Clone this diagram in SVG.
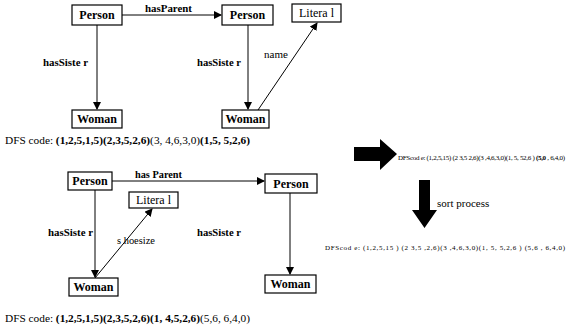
<svg xmlns="http://www.w3.org/2000/svg" width="569" height="333" viewBox="0 0 569 333" font-family="'Liberation Serif', 'Times New Roman', Times, serif">
<style>
text{font-family:'Liberation Serif','Times New Roman',Times,serif;fill:#000}
.box{fill:#fff;stroke:#000;stroke-width:1.2}
.nl{font-size:12px;font-weight:bold}
.lit{font-size:12px}
.el{font-size:11px;font-weight:bold}
.en{font-size:11px}
.code{font-size:11px}
.small{font-size:7px}
.b{font-weight:bold}
.edge{stroke:#000;stroke-width:1;fill:none;marker-end:url(#ah)}
</style>
<defs>
<marker id="ah" markerWidth="8" markerHeight="8" refX="7" refY="4" orient="auto" markerUnits="userSpaceOnUse">
<path d="M0,0 L8,4 L0,8 Z" fill="#000"/>
</marker>
</defs>
<g id="connectors">
<line class="edge" x1="122" y1="15" x2="221" y2="15"/>
<line class="edge" x1="97" y1="25" x2="97" y2="109"/>
<line class="edge" x1="248" y1="25" x2="248" y2="109"/>
<line class="edge" x1="258" y1="110" x2="317" y2="23"/>
<line class="edge" x1="112" y1="181" x2="264" y2="181"/>
<line class="edge" x1="95" y1="190" x2="95" y2="277"/>
<line class="edge" x1="95" y1="278" x2="152" y2="209"/>
<line class="edge" x1="290" y1="193" x2="290" y2="274"/>
<text class="el" x="145" y="12" textLength="47" lengthAdjust="spacingAndGlyphs">hasParent</text>
<text class="el" x="43" y="66" textLength="45" lengthAdjust="spacingAndGlyphs">hasSiste r</text>
<text class="el" x="197" y="66" textLength="44" lengthAdjust="spacingAndGlyphs">hasSiste r</text>
<text class="en" x="264" y="58">name</text>
<text class="el" x="135" y="178" textLength="47" lengthAdjust="spacingAndGlyphs">has Parent</text>
<text class="el" x="48" y="236" textLength="45" lengthAdjust="spacingAndGlyphs">hasSiste r</text>
<text class="en" x="117" y="244" textLength="38" lengthAdjust="spacingAndGlyphs">s hoesize</text>
<text class="el" x="197" y="236" textLength="44" lengthAdjust="spacingAndGlyphs">hasSiste r</text>
</g>
<g id="person1"><rect class="box" x="72" y="5" width="50" height="20"/><text class="nl" x="97" y="19" text-anchor="middle">Person</text></g>
<g id="person2"><rect class="box" x="222" y="5" width="51" height="20"/><text class="nl" x="247.5" y="19" text-anchor="middle">Person</text></g>
<g id="literal1"><rect class="box" x="292" y="4" width="49" height="18"/><text class="lit" x="316.5" y="17" text-anchor="middle">Litera l</text></g>
<g id="woman1"><rect class="box" x="72" y="110" width="50" height="18"/><text class="nl" x="97" y="123" text-anchor="middle">Woman</text></g>
<g id="woman2"><rect class="box" x="222" y="110" width="47" height="18"/><text class="nl" x="245.5" y="123" text-anchor="middle">Woman</text></g>
<g id="person3"><rect class="box" x="68" y="172" width="44" height="18"/><text class="nl" x="90" y="185" text-anchor="middle">Person</text></g>
<g id="person4"><rect class="box" x="265" y="174" width="52" height="19"/><text class="nl" x="291" y="188" text-anchor="middle">Person</text></g>
<g id="literal2"><rect class="box" x="129" y="192" width="49" height="16"/><text class="lit" x="153.5" y="204" text-anchor="middle">Litera l</text></g>
<g id="woman3"><rect class="box" x="69" y="278" width="49" height="18"/><text class="nl" x="93.5" y="291" text-anchor="middle">Woman</text></g>
<g id="woman4"><rect class="box" x="265" y="275" width="51" height="18"/><text class="nl" x="290.5" y="288" text-anchor="middle">Woman</text></g>
<text class="code" x="5" y="144" textLength="245" lengthAdjust="spacingAndGlyphs">DFS code:  <tspan class="b">(1,2,5,1,5)(2,3,5,2,6)</tspan>(3, 4,6,3,0)<tspan class="b">(1,5, 5,2,6)</tspan></text>
<text class="code" x="5" y="322" textLength="245" lengthAdjust="spacingAndGlyphs">DFS code:  <tspan class="b">(1,2,5,1,5)(2,3,5,2,6)(1, 4,5,2,6)</tspan>(5,6, 6,4,0)</text>
<g id="bigarrow"><path d="M354,147 L380,147 L380,139 L397,154 L380,170 L380,161 L354,161 Z" fill="#000"/></g>
<text class="small" x="398" y="160" textLength="167" lengthAdjust="spacing">DFScod e: (1,2,5,15)  (2 3,5 2,6)(3 ,4,6,3,0)(1,  5, 52,6 ) <tspan class="b">(5,0</tspan> , 6,4,0)</text>
<g id="downarrow"><path d="M419,180 L430,180 L430,210 L437,210 L424.5,228 L412,210 L419,210 Z" fill="#000"/></g>
<text class="en" x="437" y="207">sort process</text>
<text class="small" x="325" y="250" textLength="240" lengthAdjust="spacing">DFScod e: (1,2,5,15 )  (2 3,5 ,2,6)(3  ,4,6,3,0)(1,   5,  5,2,6 ) (5,6 ,  6,4,0)</text>
</svg>
